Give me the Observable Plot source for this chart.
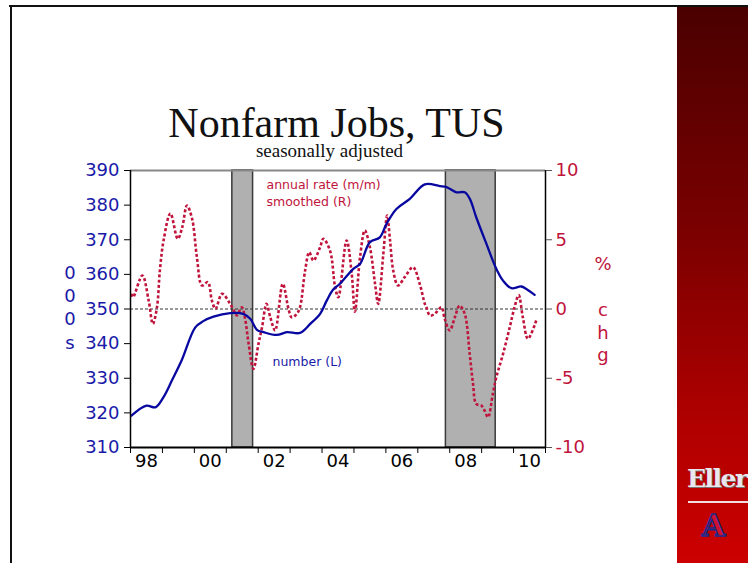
<!DOCTYPE html>
<html>
<head>
<meta charset="utf-8">
<script src="https://cdn.jsdelivr.net/npm/d3@7"></script>
<script src="https://cdn.jsdelivr.net/npm/@observablehq/plot@0.6"></script>
<style>
  body { margin: 0; background: #fff; }
  #slide { position: relative; width: 748px; height: 563px; background: #fff; overflow: hidden; font-family: "DejaVu Sans", Verdana, sans-serif; }
  .abs { position: absolute; white-space: nowrap; }
  #chart { position: absolute; left: 0; top: 160px; }
  .side { position: absolute; width: 20px; text-align: center; font-size: 18px; line-height: 20px; }
</style>
</head>
<body>
<div id="slide">
  <div class="abs" style="left:677px;top:5px;width:71px;height:558px;background:linear-gradient(to bottom,#4a0000 0%,#7a0000 40%,#b00000 75%,#cc0000 100%);"></div>
  <div class="abs" style="left:9px;top:4.5px;width:739px;height:2.5px;background:#111;"></div>
  <div class="abs" style="left:9.5px;top:4.5px;width:2.5px;height:559px;background:#111;"></div>

  <div class="abs" style="left:0;width:673px;top:104.8px;text-align:center;font-family:'Liberation Serif','Times New Roman',serif;font-size:42px;line-height:36px;color:#111;">Nonfarm Jobs, TUS</div>
  <div class="abs" style="left:0;width:659px;top:142.6px;text-align:center;font-family:'Liberation Serif','Times New Roman',serif;font-size:19px;line-height:16px;color:#111;">seasonally adjusted</div>

  <div id="chart"></div>

  <div class="abs" style="left:266.5px;top:177px;font-size:12.5px;line-height:16.5px;color:#c0143c;">annual rate (m/m)<br>smoothed (R)</div>
  <div class="abs" style="left:272.5px;top:353.5px;font-size:12.5px;line-height:16px;color:#1a1aa8;">number (L)</div>

  <div class="side" style="left:60px;top:263px;color:#1a1aa8;">0</div>
  <div class="side" style="left:60px;top:286px;color:#1a1aa8;">0</div>
  <div class="side" style="left:60px;top:309px;color:#1a1aa8;">0</div>
  <div class="side" style="left:60px;top:333px;color:#1a1aa8;">s</div>

  <div class="side" style="left:593px;top:254px;color:#c0143c;">%</div>
  <div class="side" style="left:593px;top:300px;color:#c0143c;">c</div>
  <div class="side" style="left:593px;top:323px;color:#c0143c;">h</div>
  <div class="side" style="left:593px;top:345px;color:#c0143c;">g</div>

  <div class="abs" style="left:687px;top:464px;font-family:'DejaVu Serif','Liberation Serif',serif;font-weight:bold;font-size:25px;letter-spacing:-1.5px;color:#e8e8ee;text-shadow:1px 1px 0 #777;">Eller</div>
  <div class="abs" style="left:688px;top:501px;width:60px;height:1.5px;background:#f2dede;"></div>
  <div class="abs" style="left:702px;top:508px;font-family:'DejaVu Serif','Liberation Serif',serif;font-weight:bold;font-size:30px;color:#d01030;-webkit-text-stroke:1.5px #1a2a8a;">A</div>
</div>
<script>
// Nonfarm jobs, thousands (left axis)
const blueYears  = [1998.03,1998.5,1998.78,1999.03,1999.3,1999.6,2000.03,2000.28,2000.6,2001.12,2001.53,2001.75,2001.96,2002.17,2002.58,2002.9,2003.31,2003.63,2003.94,2004.15,2004.35,2004.56,2004.98,2005.19,2005.5,2005.81,2006.02,2006.33,2006.75,2007.22,2007.69,2007.9,2008.21,2008.47,2008.63,2008.83,2009.15,2009.46,2009.67,2009.93,2010.24,2010.4,2010.66];
const blueValues = [319.2,322.1,321.6,324.5,329.4,335.1,344.7,346.5,347.8,348.8,348.6,347.2,344.0,343.3,342.5,343.3,343.1,345.7,348.6,352.5,355.6,357.3,361.6,363.0,369.3,370.7,374.6,378.9,381.8,386.0,385.5,385.2,383.7,383.7,381.8,376.5,368.8,361.6,358.2,356.0,356.5,355.8,354.1];

// Annual rate (m/m), smoothed, % chg (right axis)
const rateYears  = [1998.03,1998.08,1998.37,1998.57,1998.7,1998.83,1998.92,1999.04,1999.25,1999.48,1999.62,1999.77,1999.93,2000.08,2000.24,2000.42,2000.55,2000.66,2000.87,2001.12,2001.28,2001.33,2001.49,2001.59,2001.7,2001.85,2002.01,2002.12,2002.26,2002.38,2002.53,2002.77,2002.95,2003.05,2003.21,2003.31,2003.47,2003.6,2003.73,2003.94,2004.04,2004.25,2004.41,2004.51,2004.77,2004.93,2005.03,2005.19,2005.34,2005.5,2005.66,2005.76,2005.92,2006.04,2006.13,2006.23,2006.38,2006.59,2006.85,2007.06,2007.22,2007.27,2007.38,2007.53,2007.74,2007.84,2008.0,2008.16,2008.31,2008.47,2008.63,2008.73,2008.83,2008.99,2009.09,2009.2,2009.35,2009.46,2009.67,2009.88,2010.03,2010.16,2010.29,2010.45,2010.71];
const rateValues = [1.1,0.85,2.42,0.6,-1.07,0.13,2.78,5.0,6.9,5.07,5.9,7.47,6.51,3.74,1.7,1.94,0.61,0.01,1.1,0.37,-0.3,-0.47,0.13,-0.7,-2.5,-4.32,-2.5,-1.32,0.37,-0.6,-1.55,1.82,0.0,-0.6,-0.35,0.13,2.78,4.1,3.5,4.46,5.07,4.22,1.58,0.85,4.95,2.54,-0.2,3.74,5.67,4.46,1.82,0.37,3.98,6.75,4.95,2.78,1.7,2.3,3.02,1.82,0.37,0.13,-0.47,-0.35,0.13,-0.7,-1.55,-0.6,0.25,-0.35,-3.36,-5.4,-6.85,-6.97,-7.33,-7.81,-6.13,-4.92,-3.24,-1.32,0.13,1.0,-0.6,-2.15,-0.83];

// Recessions
const recStart = [2001.19, 2007.88];
const recEnd   = [2001.84, 2009.44];

// Axis ticks
const leftTicks  = [310,320,330,340,350,360,370,380,390];
const rightTicks = [-10,-5,0,5,10];
const yearTicks  = d3.range(1998, 2012);
const yearLabels = [1998,2000,2002,2004,2006,2008,2010];

// right axis (-10..10) mapped onto left scale (310..390)
const toLeft = r => 350 + 4 * r;

const blue = blueYears.map((x, i) => ({x, y: blueValues[i]}));
const red  = rateYears.map((x, i) => ({x, y: toLeft(rateValues[i])}));
const rec  = recStart.map((s, i) => ({x1: s, x2: recEnd[i], y1: 310, y2: 390}));

const BLUE = "#0808a0", BLUE_T = "#1a1aa8", RED = "#c0143c";

const chart = Plot.plot({
  width: 680, height: 320,
  marginLeft: 130, marginRight: 135, marginTop: 10, marginBottom: 33,
  x: {domain: [1998, 2011]},
  y: {domain: [310, 390]},
  style: {fontFamily: "'DejaVu Sans', Verdana, sans-serif", fontSize: "18px", background: "transparent", overflow: "visible"},
  marks: [
    Plot.rect(rec, {x1: "x1", x2: "x2", y1: "y1", y2: "y2", fill: "#b0b0b0", stroke: "#3a3a3a", strokeWidth: 1.5}),
    Plot.ruleY([350], {stroke: "#333", strokeDasharray: "3,2", strokeWidth: 1}),
    Plot.ruleY([390], {stroke: "#888", strokeWidth: 2}),
    Plot.line(red, {x: "x", y: "y", curve: "catmull-rom", stroke: RED, strokeWidth: 2.6, strokeDasharray: "3,2.2", strokeLinecap: "butt"}),
    Plot.line(blue, {x: "x", y: "y", curve: "catmull-rom", stroke: BLUE, strokeWidth: 2.3}),
    Plot.ruleX([1998], {stroke: "#000", strokeWidth: 1.5}),
    Plot.ruleX([2011], {stroke: "#000", strokeWidth: 1.5}),
    Plot.ruleY([310], {stroke: "#000", strokeWidth: 2}),
    Plot.axisY({anchor: "left", ticks: leftTicks, tickSize: 6, tickPadding: 5, stroke: "#000", fill: BLUE_T, label: null, tickFormat: d => String(d)}),
    Plot.axisY({anchor: "right", ticks: rightTicks.map(toLeft), tickSize: 6, tickPadding: 4, stroke: "#555", fill: RED, label: null, tickFormat: d => String((d - 350) / 4)}),
    Plot.axisX({ticks: yearTicks, tickSize: 6, stroke: "#000", tickFormat: () => "", label: null}),
    Plot.axisX({ticks: yearLabels.map(y => y + 0.5), tickSize: 0, tickPadding: 7, fill: "#000", label: null, tickFormat: d => String(Math.floor(d) % 100).padStart(2, "0")})
  ]
});
document.getElementById("chart").appendChild(chart);
</script>
</body>
</html>
